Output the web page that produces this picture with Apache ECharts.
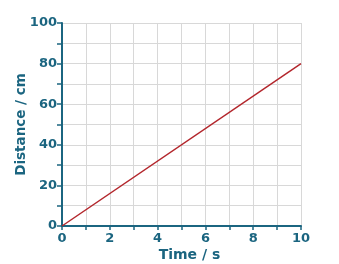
<!DOCTYPE html>
<html>
<head>
<meta charset="utf-8">
<script src="https://cdn.jsdelivr.net/npm/echarts@6/dist/echarts.min.js"></script>
<style>html,body{margin:0;padding:0;background:#fff}#c{width:339px;height:264px}</style>
</head>
<body>
<div id="c"></div>
<script>
var times = [0, 10];
var distances = [0, 80];
var xName = 'Time / s';
var yName = 'Distance / cm';

var axisColor = '#1b6580';
var font = 'DejaVu Sans';
var chart = echarts.init(document.getElementById('c'));
chart.setOption({
  animation: false,
  grid: {left: 62, right: 38, top: 23, bottom: 38, outerBoundsMode: 'none', containLabel: false},
  xAxis: {
    type: 'value', min: 0, max: 10, interval: 1,
    name: xName, nameLocation: 'middle', nameGap: 22, nameMoveOverlap: false,
    nameTextStyle: {color: axisColor, fontFamily: font, fontWeight: 'bold', fontSize: 14, padding: [0, 0, 0, 16]},
    axisLine: {show: true, lineStyle: {color: axisColor, width: 2}},
    axisTick: {show: true, inside: false, length: 4, lineStyle: {color: axisColor, width: 1.5}},
    axisLabel: {color: axisColor, fontFamily: font, fontWeight: 'bold', fontSize: 13, margin: 6,
      formatter: function (v) { return v % 2 === 0 ? String(v) : ''; }},
    splitLine: {show: true, lineStyle: {color: '#d8d8d8', width: 1}}
  },
  yAxis: {
    type: 'value', min: 0, max: 100, interval: 10,
    name: yName, nameLocation: 'middle', nameGap: 34, nameMoveOverlap: false,
    nameTextStyle: {color: axisColor, fontFamily: font, fontWeight: 'bold', fontSize: 13.5},
    axisLine: {show: true, lineStyle: {color: axisColor, width: 2}},
    axisTick: {show: true, length: 5, lineStyle: {color: axisColor, width: 1.5}},
    axisLabel: {color: axisColor, fontFamily: font, fontWeight: 'bold', fontSize: 13, margin: 5,
      formatter: function (v) { return v % 20 === 0 ? String(v) : ''; }},
    splitLine: {show: true, lineStyle: {color: '#d8d8d8', width: 1}}
  },
  series: [{
    type: 'line',
    data: times.map(function (t, i) { return [t, distances[i]]; }),
    showSymbol: false,
    lineStyle: {color: '#b3262c', width: 1.5}
  }]
});
</script>
</body>
</html>
